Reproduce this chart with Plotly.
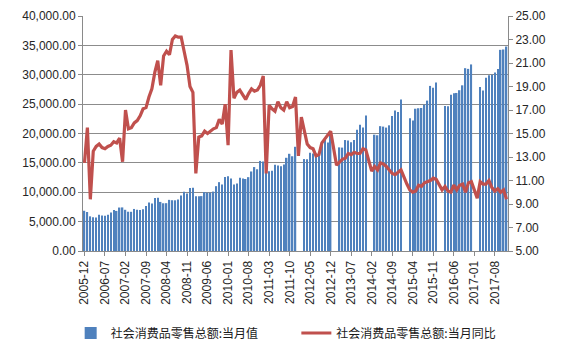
import plotly.graph_objects as go

# Categories: monthly, 2005-12 .. 2017-12
months = ["2005-12"] + [f"{y}-{m:02d}" for y in range(2006, 2018) for m in range(1, 13)]

# 社会消费品零售总额:当月值 (亿元), Jan..Dec per year (None = not published)
value_2005 = [6850]
value_2006 = [6642, 5900, 5750, 5720, 6176, 6058, 6012, 6150, 6554, 6998, 6822, 7400]
value_2007 = [7420, 7014, 6686, 6673, 7158, 7026, 6998, 7117, 7668, 8263, 8105, 9015]
value_2008 = [9077, 8355, 8123, 8142, 8704, 8642, 8629, 8768, 9447, 10083, 9791, 10729]
value_2009 = [10757, 9324, 9318, 9343, 10028, 9942, 9937, 10116, 11033, 11718, 11339, 12610]
value_2010 = [12718, 12334, 11322, 11510, 12455, 12330, 12252, 12570, 13537, 14285, 13911, 15330]
value_2011 = [15249, 13769, 13588, 13649, 14697, 14565, 14408, 14705, 15865, 16546, 16129, 17740]
value_2012 = [None, None, 15650, 15603, 16715, 16585, 16315, 16659, 18227, 18934, 18477, 20334]
value_2013 = [None, None, 17640, 17600, 18886, 18827, 18513, 18886, 20653, 21491, 21012, 23060]
value_2014 = [None, None, 19800, 19700, 21250, 21175, 21005, 21393, 23000, 23900, 23650, 25801]
value_2015 = [None, None, 22600, 22200, 24220, 24300, 24340, 24900, 25600, 28100, 27800, 28700]
value_2016 = [None, None, 24700, 24646, 26611, 26857, 26900, 27367, 28200, 31119, 31000, 31757]
value_2017 = [None, None, 27900, 27300, 29500, 29900, 30000, 30400, 31000, 34240, 34300, 34800]

# 社会消费品零售总额:当月同比 (%)
yoy_2005 = [12.5]
yoy_2006 = [15.5, 9.4, 13.5, 13.9, 14.1, 13.8, 13.7, 13.9, 14.0, 14.3, 14.2, 14.6]
yoy_2007 = [12.6, 17.0, 15.4, 15.5, 15.9, 16.1, 16.5, 17.1, 17.2, 18.1, 18.8, 20.2]
yoy_2008 = [21.2, 19.1, 21.6, 22.0, 21.7, 23.0, 23.3, 23.2, 23.2, 22.0, 20.8, 19.0]
yoy_2009 = [18.5, 11.6, 14.7, 14.8, 15.2, 15.0, 15.2, 15.4, 15.5, 16.2, 15.8, 17.5]
yoy_2010 = [14.0, 22.1, 18.0, 18.5, 18.7, 18.3, 17.9, 18.4, 18.8, 18.6, 18.7, 19.1]
yoy_2011 = [19.9, 11.6, 17.4, 17.1, 16.9, 17.7, 17.2, 17.0, 17.7, 17.2, 17.3, 18.1]
yoy_2012 = [13.1, 16.4, 15.2, 14.1, 13.8, 13.7, 13.1, 13.2, 14.2, 14.5, 14.9, 15.2]
yoy_2013 = [None, 12.3, 12.6, 12.8, 12.9, 13.3, 13.2, 13.4, 13.3, 13.3, 13.7, 13.6]
yoy_2014 = [None, 11.8, 12.2, 11.9, 12.5, 12.4, 12.2, 11.9, 11.6, 11.5, 11.7, 11.9]
yoy_2015 = [None, 10.7, 10.2, 10.0, 10.1, 10.6, 10.5, 10.8, 10.9, 11.0, 11.2, 11.1]
yoy_2016 = [None, 10.2, 10.5, 10.1, 10.0, 10.6, 10.2, 10.6, 10.7, 10.0, 10.8, 10.9]
yoy_2017 = [None, 9.5, 10.9, 10.7, 10.7, 11.0, 10.4, 10.1, 10.3, 10.0, 10.2, 9.4]

monthly_value = (value_2005 + value_2006 + value_2007 + value_2008 + value_2009 + value_2010
                 + value_2011 + value_2012 + value_2013 + value_2014 + value_2015 + value_2016
                 + value_2017)
monthly_yoy = (yoy_2005 + yoy_2006 + yoy_2007 + yoy_2008 + yoy_2009 + yoy_2010 + yoy_2011
               + yoy_2012 + yoy_2013 + yoy_2014 + yoy_2015 + yoy_2016 + yoy_2017)

tick_labels = months[::7]

series_names = ["社会消费品零售总额:当月值", "社会消费品零售总额:当月同比"]

axis_font = dict(family="Liberation Sans, Arial, sans-serif", size=12, color="#262626")
axis_color = "#8a8a8a"
legend_font = dict(family="Noto Sans CJK SC, sans-serif", size=12, color="#1a1a1a")

fig = go.Figure()
fig.add_trace(go.Bar(
    x=months, y=monthly_value, name=series_names[0], legend="legend",
    marker=dict(color="#4F81BD", line=dict(width=0)),
))
fig.add_trace(go.Scatter(
    x=months, y=monthly_yoy, name=series_names[1], yaxis="y2", legend="legend2",
    mode="lines", connectgaps=True,
    line=dict(color="#C0504D", width=3.2),
))

# The page body keeps the browser's default 8px margin, so the figure is sized
# to fit inside the 568x356 window after that offset.
fig.update_layout(
    width=560, height=348,
    margin=dict(l=75, r=60, t=8, b=102),
    paper_bgcolor="white", plot_bgcolor="white",
    bargap=0.5,
    font=axis_font,
    showlegend=True,
    legend=dict(
        orientation="h", x=-0.029, xanchor="left", y=-0.349, yanchor="middle",
        font=legend_font, itemwidth=30, bgcolor="rgba(0,0,0,0)",
    ),
    legend2=dict(
        orientation="h", x=0.502, xanchor="left", y=-0.349, yanchor="middle",
        font=legend_font, itemwidth=30, bgcolor="rgba(0,0,0,0)",
    ),
    xaxis=dict(
        type="category", categoryorder="array", categoryarray=months,
        tickmode="array", tickvals=tick_labels, ticktext=tick_labels,
        tickangle=-90, showgrid=False, showline=True, linecolor=axis_color,
        ticks="outside", ticklen=4, tickcolor=axis_color, tickfont=axis_font,
        range=[-0.5, len(months) - 0.5], automargin=False,
    ),
    yaxis=dict(
        range=[0, 40000], dtick=5000, tickformat=",.2f",
        showgrid=True, gridcolor="#8c8c8c", gridwidth=1, zeroline=False,
        showline=True, linecolor=axis_color, ticks="outside", ticklen=4,
        tickcolor=axis_color, tickfont=axis_font, automargin=False,
        ticklabeloverflow="allow",
    ),
    yaxis2=dict(
        range=[5, 25], tick0=5, dtick=2, tickformat=".2f",
        overlaying="y", side="right", showgrid=False, zeroline=False,
        showline=True, linecolor=axis_color, ticks="outside", ticklen=4,
        tickcolor=axis_color, tickfont=axis_font, automargin=False,
        ticklabeloverflow="allow",
    ),
)

fig.write_html("out.html")
